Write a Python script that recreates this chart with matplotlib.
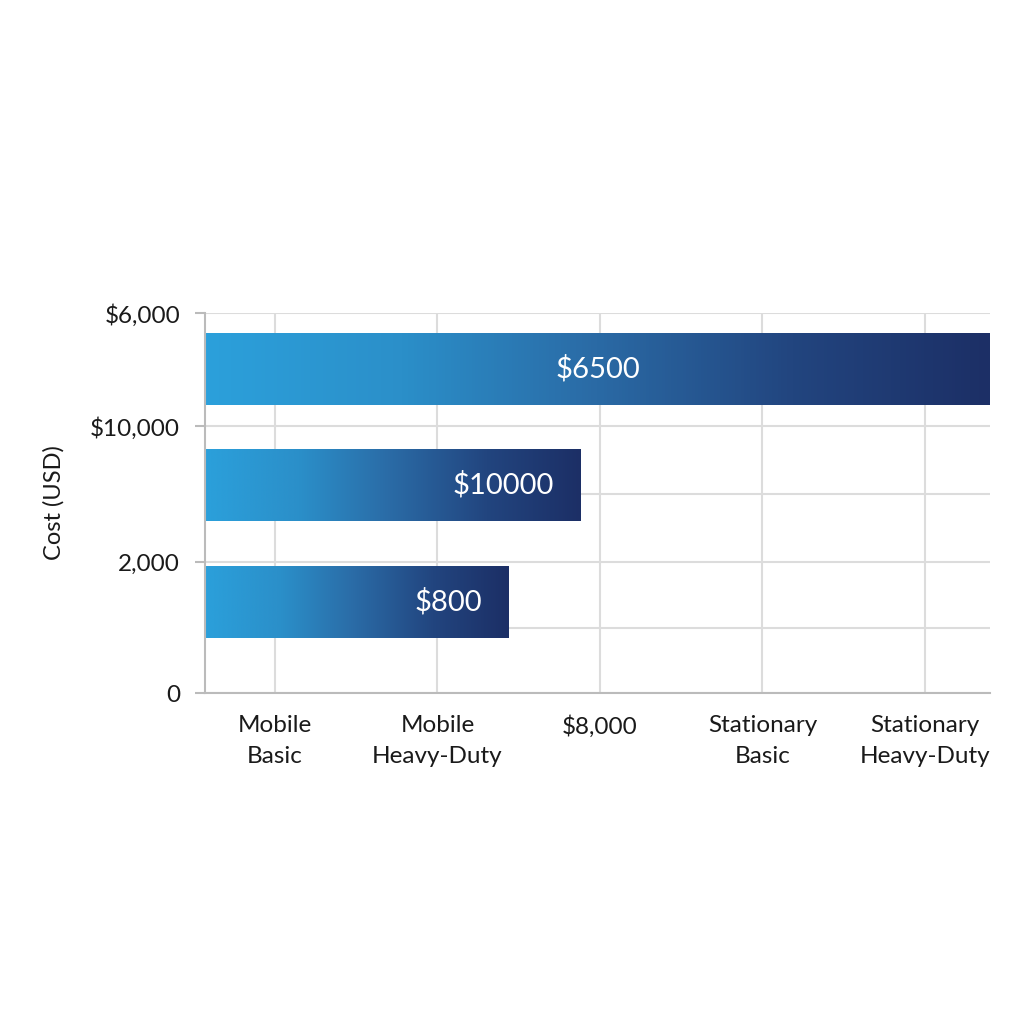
import matplotlib.pyplot as plt
import numpy as np
from matplotlib.colors import LinearSegmentedColormap
from matplotlib.patches import Rectangle

plt.rcParams['font.family'] = ['Lato', 'DejaVu Sans']

# categories on the x axis (positions 0..4)
categories = ["Mobile\nBasic", "Mobile\nHeavy-Duty", "$8,000", "Stationary\nBasic", "Stationary\nHeavy-Duty"]

# y ticks as drawn (positions on a 0..380 scale) and their labels
y_tick_pos = [0, 131, 267, 380]
y_tick_labels = ["0", "2,000", "$10,000", "$6,000"]
y_grid_pos = [0, 65, 131, 199, 267, 380]

# bars: vertical centre, end on the x scale, text
bar_centers = [324, 208, 91.5]
bar_ends = [4.41, 1.88, 1.44]
bar_texts = ["$6500", "$10000", "$800"]
bar_height = 72

x_min, x_max = -0.43, 4.40
y_min, y_max = 0, 380

fig = plt.figure(figsize=(10.24, 10.24), dpi=100)
ax = fig.add_axes([0.2002, 0.3232, 0.7666, 0.3711])
ax.set_xlim(x_min, x_max)
ax.set_ylim(y_min, y_max)

grid_col = "#dcdcdc"
for y in y_grid_pos:
    ax.axhline(y, color=grid_col, lw=1.5, zorder=0)
for x in range(len(categories)):
    ax.axvline(x, color=grid_col, lw=1.5, zorder=0)

cmap = LinearSegmentedColormap.from_list("bar", ["#2BA0DB", "#2B8FC9", "#2A6AA5", "#22457F", "#1C2F66"])
grad = np.linspace(0, 1, 256).reshape(1, -1)

for yc, xe, txt in zip(bar_centers, bar_ends, bar_texts):
    x_end = min(xe, x_max)
    y0, y1 = yc - bar_height / 2, yc + bar_height / 2
    im = ax.imshow(grad, cmap=cmap, aspect='auto', extent=(x_min, x_end, y0, y1),
                   interpolation='bicubic', zorder=2)
    rect = Rectangle((x_min, y0), x_end - x_min, bar_height, transform=ax.transData, fc='none', ec='none')
    ax.add_patch(rect)
    im.set_clip_path(rect)
    if xe >= x_max:
        ax.text((x_min + x_end) / 2, yc, txt, color="white", fontsize=21, ha="center", va="center", zorder=3)
    else:
        ax.text(x_end - 0.165, yc, txt, color="white", fontsize=21, ha="right", va="center", zorder=3)

ax.set_xticks(range(len(categories)))
ax.set_xticklabels(categories, fontsize=17.5, color="#1a1a1a", linespacing=1.55, va="top")
ax.tick_params(axis='x', length=0, pad=16)
ax.set_yticks(y_tick_pos)
ax.set_yticklabels(y_tick_labels, fontsize=17.5, color="#1a1a1a")
ax.tick_params(axis='y', length=7, color="#bbbbbb", width=1.5, pad=11)

for s in ["top", "right"]:
    ax.spines[s].set_visible(False)
for s in ["left", "bottom"]:
    ax.spines[s].set_color("#bbbbbb")
    ax.spines[s].set_linewidth(1.5)

ax.set_ylabel("Cost (USD)", fontsize=17, color="#1a1a1a", labelpad=18)

fig.savefig("out.png", dpi=100, facecolor="white")
